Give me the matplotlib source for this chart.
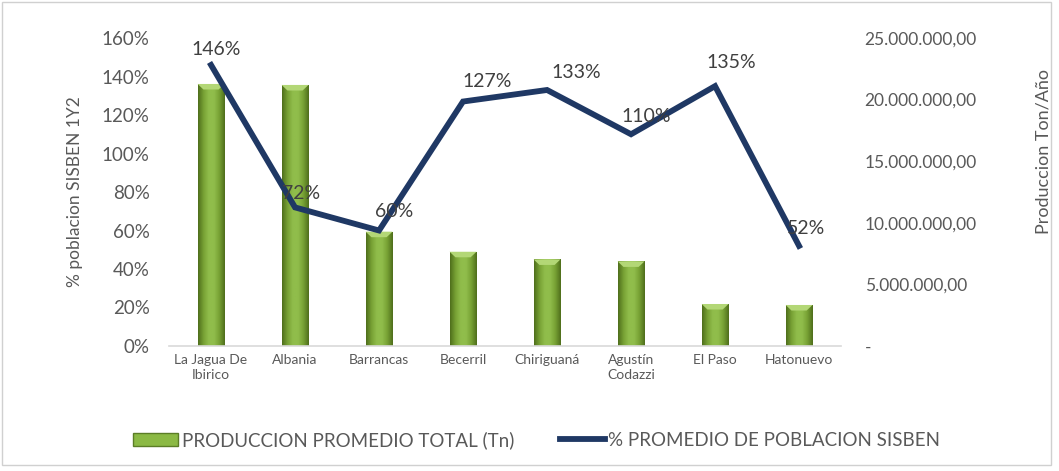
import numpy as np
import matplotlib
matplotlib.use("Agg")
import matplotlib.pyplot as plt
from matplotlib.colors import LinearSegmentedColormap
from matplotlib.patches import Rectangle, Polygon
from matplotlib.lines import Line2D
from matplotlib.ticker import FuncFormatter, MultipleLocator

# data
municipios = ["La Jagua De\nIbirico", "Albania", "Barrancas", "Becerril",
              "Chiriguaná", "Agustín\nCodazzi", "El Paso", "Hatonuevo"]
produccion = [21270000, 21190000, 9280000, 7650000, 7030000, 6870000, 3410000, 3330000]
pct_sisben = [146, 72, 60, 127, 133, 110, 135, 52]

# label nudges (pixels) so labels sit like in the original
label_dx = [5, 6, 15, 24, 29, 15, 16, 7]
label_dy = [15, 14, 19, 20, 17, 18, 24, 17]

plt.rcParams['font.family'] = ['Lato', 'DejaVu Sans']
gray = '#595959'
navy = '#1f3864'

fig = plt.figure(figsize=(10.59, 4.71), dpi=100)
ax = fig.add_axes([0.1596, 0.2654, 0.6346, 0.6539])
ax2 = ax.twinx()

x = np.arange(len(municipios))
w = 0.32

# bars with a simple bevel/gradient look
cmap = LinearSegmentedColormap.from_list(
    'bev', ['#4f6f1c', '#77a134', '#90bd4b', '#90bd4b', '#77a134', '#4f6f1c'])
grad = np.linspace(0, 1, 64).reshape(1, -1)
for xi, h in zip(x, produccion):
    rect = Rectangle((xi - w / 2, 0), w, h, facecolor='#7fa83a', edgecolor='none')
    ax2.add_patch(rect)
    im = ax2.imshow(grad, cmap=cmap, extent=[xi - w / 2, xi + w / 2, 0, h],
                    aspect='auto', zorder=2)
    im.set_clip_path(rect)
    bev = Polygon([(xi - w / 2, h), (xi + w / 2, h),
                   (xi + w / 2 - 0.07, h - 450000), (xi - w / 2 + 0.07, h - 450000)],
                  closed=True, facecolor='#b3d776', edgecolor='none', zorder=3)
    ax2.add_patch(bev)

ax2.set_ylim(0, 25000000)
ax2.set_xlim(-0.5, len(municipios) - 0.5)
ax2.yaxis.set_major_locator(MultipleLocator(5000000))


def es_fmt(v, pos):
    if v == 0:
        return '-'
    s = f"{v:,.2f}"
    return s.replace(',', 'X').replace('.', ',').replace('X', '.')


ax2.yaxis.set_major_formatter(FuncFormatter(es_fmt))

# line on the left axis, drawn above the bars
ax.set_zorder(ax2.get_zorder() + 1)
ax.patch.set_visible(False)
ax.plot(x, pct_sisben, color=navy, lw=4.2, solid_joinstyle='miter', zorder=4)
for xi, v, dx, dy in zip(x, pct_sisben, label_dx, label_dy):
    ax.annotate(f"{v}%", (xi, v), xytext=(dx * 0.72, dy * 0.72),
                textcoords='offset points', ha='center', va='center',
                fontsize=14, color='#404040', zorder=5)

ax.set_ylim(0, 160)
ax.set_xlim(-0.5, len(municipios) - 0.5)
ax.yaxis.set_major_locator(MultipleLocator(20))
ax.yaxis.set_major_formatter(FuncFormatter(lambda v, p: f"{v:.0f}%"))
ax.set_xticks(x)
ax.set_xticklabels(municipios, fontsize=10, color=gray, linespacing=1.3)

for a in (ax, ax2):
    for s in ('top', 'left', 'right'):
        a.spines[s].set_visible(False)
    a.spines['bottom'].set_color('#d9d9d9')
    a.spines['bottom'].set_linewidth(1.2)
ax2.spines['bottom'].set_visible(False)

ax.tick_params(axis='y', length=0, pad=14, labelsize=13.5, labelcolor=gray)
ax.tick_params(axis='x', length=0, pad=6)
ax2.tick_params(axis='y', length=0, pad=17, labelsize=12.5, labelcolor=gray)

ax.set_ylabel('% poblacion SISBEN 1Y2', fontsize=12.5, color=gray)
ax.yaxis.set_label_coords(-0.128, 0.5)
ax2.set_ylabel('Produccion Ton/Año', fontsize=13, color=gray, rotation=90)
ax2.yaxis.set_label_coords(1.289, 0.63)

handles = [Rectangle((0, 0), 1, 1, facecolor='#8bb944', edgecolor='#5b7d26'),
           Line2D([0], [0], color=navy, lw=4.2)]
fig.legend(handles, ['PRODUCCION PROMEDIO TOTAL (Tn)', '% PROMEDIO DE POBLACION SISBEN'],
           loc='center', bbox_to_anchor=(0.507, 0.066), ncol=2, frameon=False,
           fontsize=13.5, labelcolor=gray, handlelength=2.4, handletextpad=0.2,
           columnspacing=2.4)

fig.patches.append(Rectangle((0.002, 0.012), 0.99, 0.984, transform=fig.transFigure,
                             fill=False, edgecolor='#d0d0d0', lw=1))

fig.savefig('out.png', dpi=100)
